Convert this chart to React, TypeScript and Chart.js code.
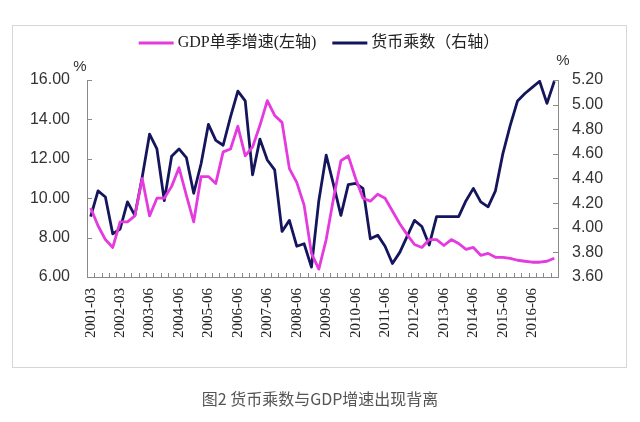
import React, { useEffect, useRef } from "react";
import { Chart, registerables } from "chart.js";

Chart.register(...registerables);

// Quarter labels (one quarter of 2002 is absent in the source series)
const QUARTERS = [
  "2001-03", "2001-06", "2001-09", "2001-12",
  "2002-03", "2002-06", "2002-09",
  "2003-03", "2003-06", "2003-09", "2003-12",
  "2004-03", "2004-06", "2004-09", "2004-12",
  "2005-03", "2005-06", "2005-09", "2005-12",
  "2006-03", "2006-06", "2006-09", "2006-12",
  "2007-03", "2007-06", "2007-09", "2007-12",
  "2008-03", "2008-06", "2008-09", "2008-12",
  "2009-03", "2009-06", "2009-09", "2009-12",
  "2010-03", "2010-06", "2010-09", "2010-12",
  "2011-03", "2011-06", "2011-09", "2011-12",
  "2012-03", "2012-06", "2012-09", "2012-12",
  "2013-03", "2013-06", "2013-09", "2013-12",
  "2014-03", "2014-06", "2014-09", "2014-12",
  "2015-03", "2015-06", "2015-09", "2015-12",
  "2016-03", "2016-06", "2016-09", "2016-12",
  "2017-03",
];

// Labels shown on the category axis
const SHOWN_TICKS = [
  "2001-03", "2002-03", "2003-06", "2004-06", "2005-06", "2006-06", "2007-06", "2008-06",
  "2009-06", "2010-06", "2011-06", "2012-06", "2013-06", "2014-06", "2015-06", "2016-06",
];

// GDP quarterly growth, % (left axis)
const GDP_GROWTH = [
  9.5, 8.6, 7.9, 7.5,
  8.8, 8.8, 9.1,
  11.0, 9.1, 10.0, 10.0,
  10.6, 11.55, 10.15, 8.8,
  11.1, 11.1, 10.75, 12.35,
  12.5, 13.65, 12.15, 12.6,
  13.7, 14.95, 14.2, 13.85,
  11.5, 10.8, 9.65, 7.2,
  6.4, 7.9, 10.0, 11.9,
  12.15, 11.0, 10.0, 9.85,
  10.2, 10.0, 9.35, 8.7,
  8.15, 7.65, 7.5, 7.9,
  7.9, 7.6, 7.9, 7.7,
  7.4, 7.5, 7.1, 7.2,
  7.0, 7.0, 6.95, 6.85,
  6.8, 6.75, 6.75, 6.8,
  6.95,
];

// Money multiplier (right axis)
const MONEY_MULTIPLIER = [
  4.09, 4.30, 4.25, 3.95,
  3.99, 4.21, 4.10,
  4.41, 4.76, 4.64, 4.22,
  4.58, 4.64, 4.57, 4.28,
  4.52, 4.84, 4.71, 4.67,
  4.90, 5.11, 5.03, 4.43,
  4.72, 4.55, 4.47, 3.97,
  4.06, 3.85, 3.87, 3.68,
  4.22, 4.59, 4.35, 4.10,
  4.35, 4.36, 4.32, 3.91,
  3.94, 3.85, 3.71, 3.80,
  3.93, 4.06, 4.01, 3.86,
  4.09, 4.09, 4.09, 4.09,
  4.22, 4.32, 4.21, 4.17,
  4.30, 4.60, 4.83, 5.03,
  5.09, 5.14, 5.19, 5.01,
  5.19,
];

const LEFT_MIN = 6;
const LEFT_MAX = 16;
const LEFT_STEP = 2;
const RIGHT_MIN = 3.6;
const RIGHT_MAX = 5.2;
const RIGHT_STEP = 0.2;

const GDP_LABEL = "GDP单季增速(左轴)";
const MM_LABEL = "货币乘数（右轴）";
const CAPTION = "图2 货币乘数与GDP增速出现背离";

const MAGENTA = "#e43ade";
const NAVY = "#15155e";
const AXIS = "#8a8a8a";
const TEXT = "#333333";

const W = 640;
const H = 422;

const axisTicks = {
  id: "axisTicks",
  beforeDatasetsDraw(chart: any) {
    const { ctx, chartArea: a, scales } = chart;
    ctx.save();
    ctx.strokeStyle = AXIS;
    ctx.lineWidth = 1;
    ctx.beginPath();
    const x = scales.x;
    const n = QUARTERS.length;
    for (let i = 0; i <= n; i++) {
      const px = Math.round(x.getPixelForValue(i - 0.5)) + 0.5;
      ctx.moveTo(px, a.bottom);
      ctx.lineTo(px, a.bottom - 4);
    }
    for (const t of scales.yL.ticks) {
      const py = Math.round(scales.yL.getPixelForValue(t.value)) + 0.5;
      ctx.moveTo(a.left, py);
      ctx.lineTo(a.left + 5, py);
    }
    for (const t of scales.yR.ticks) {
      const py = Math.round(scales.yR.getPixelForValue(t.value)) + 0.5;
      ctx.moveTo(a.right, py);
      ctx.lineTo(a.right - 5, py);
    }
    ctx.stroke();
    ctx.restore();
  },
};

const legendAndUnits = {
  id: "legendAndUnits",
  afterDraw(chart: any) {
    const { ctx, chartArea: a } = chart;
    ctx.save();
    // units
    ctx.fillStyle = TEXT;
    ctx.font = '15px "Liberation Sans", Arial, sans-serif';
    ctx.textBaseline = "middle";
    ctx.textAlign = "center";
    ctx.fillText("%", a.left - 7, a.top - 13);
    ctx.fillText("%", a.right + 5, a.top - 19);

    // legend
    const items = chart.data.datasets.map((d: any) => ({ text: d.label, color: d.borderColor }));
    ctx.font = '16px "Liberation Serif", "Noto Sans CJK SC", serif';
    const lineLen = 35;
    const gapText = 4;
    const gapItem = 16;
    const widths = items.map((it: any) => lineLen + gapText + ctx.measureText(it.text).width);
    const total = widths.reduce((s: number, w: number) => s + w, 0) + gapItem * (items.length - 1);
    let cx = W / 2 - 1 - total / 2;
    const cy = 43;
    ctx.textAlign = "left";
    items.forEach((it: any, i: number) => {
      ctx.strokeStyle = it.color;
      ctx.lineWidth = 2.8;
      ctx.beginPath();
      ctx.moveTo(cx, cy);
      ctx.lineTo(cx + lineLen, cy);
      ctx.stroke();
      ctx.fillStyle = "#222";
      ctx.fillText(it.text, cx + lineLen + gapText, cy);
      cx += widths[i] + gapItem;
    });
    ctx.restore();
  },
};

export default function App() {
  const ref = useRef<HTMLCanvasElement | null>(null);

  useEffect(() => {
    if (!ref.current) return;
    const chart = new Chart(ref.current, {
      type: "line",
      data: {
        labels: QUARTERS,
        datasets: [
          {
            label: GDP_LABEL,
            data: GDP_GROWTH,
            yAxisID: "yL",
            borderColor: MAGENTA,
            backgroundColor: MAGENTA,
            borderWidth: 2.8,
            pointRadius: 0,
            tension: 0,
            borderJoinStyle: "round",
          },
          {
            label: MM_LABEL,
            data: MONEY_MULTIPLIER,
            yAxisID: "yR",
            borderColor: NAVY,
            backgroundColor: NAVY,
            borderWidth: 2.8,
            pointRadius: 0,
            tension: 0,
            borderJoinStyle: "round",
          },
        ],
      },
      options: {
        responsive: false,
        animation: false,
        devicePixelRatio: 1,
        layout: { padding: { top: 80, left: 0, right: 0, bottom: 0 } },
        plugins: { legend: { display: false }, tooltip: { enabled: false } },
        scales: {
          x: {
            type: "category",
            offset: true,
            grid: { display: false, drawTicks: false },
            border: { display: true, color: AXIS, width: 1 },
            ticks: {
              autoSkip: false,
              minRotation: 90,
              maxRotation: 90,
              padding: 11,
              color: "#222",
              font: { family: '"Liberation Serif", serif', size: 15 },
              callback: (_v: any, i: number) => (SHOWN_TICKS.includes(QUARTERS[i]) ? QUARTERS[i] : ""),
            },
            afterFit: (s: any) => {
              s.height = H - 277;
            },
          },
          yL: {
            type: "linear",
            position: "left",
            min: LEFT_MIN,
            max: LEFT_MAX,
            grid: { display: false, drawTicks: false },
            border: { display: true, color: AXIS, width: 1 },
            ticks: {
              stepSize: LEFT_STEP,
              padding: 17,
              color: TEXT,
              font: { family: '"Liberation Sans", Arial, sans-serif', size: 16 },
              callback: (v: any) => Number(v).toFixed(2),
            },
            afterFit: (s: any) => {
              s.width = 87;
            },
          },
          yR: {
            type: "linear",
            position: "right",
            min: RIGHT_MIN,
            max: RIGHT_MAX,
            grid: { display: false, drawTicks: false },
            border: { display: true, color: AXIS, width: 1 },
            ticks: {
              stepSize: RIGHT_STEP,
              padding: 14,
              color: TEXT,
              font: { family: '"Liberation Sans", Arial, sans-serif', size: 16 },
              callback: (v: any) => Number(v).toFixed(2),
            },
            afterFit: (s: any) => {
              s.width = W - 558;
            },
          },
        },
      } as any,
      plugins: [axisTicks, legendAndUnits],
    });
    return () => chart.destroy();
  }, []);

  return (
    <div style={{ position: "fixed", left: 0, top: 0, width: W, height: H, background: "#fff", overflow: "hidden" }}>
      <div
        style={{
          position: "absolute",
          left: 12,
          top: 25,
          width: 613,
          height: 341,
          border: "1px solid #d6d6d6",
          boxSizing: "content-box",
        }}
      />
      <canvas
        ref={ref}
        width={W}
        height={H}
        style={{ position: "absolute", left: 0, top: 0, width: W, height: H }}
      />
      <div
        style={{
          position: "absolute",
          left: 0,
          top: 387,
          width: W,
          textAlign: "center",
          font: '16px "Noto Sans CJK SC", sans-serif',
          lineHeight: "22px",
          color: "#555",
        }}
      >
        {CAPTION}
      </div>
    </div>
  );
}
